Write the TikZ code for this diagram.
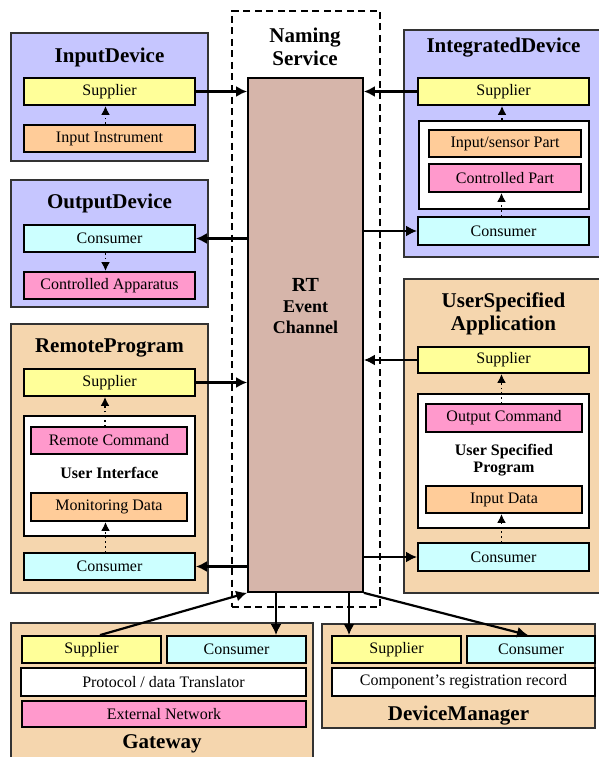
\documentclass[tikz,border=0pt]{standalone}
\usepackage{fontspec}
\setmainfont{Liberation Serif}
\usetikzlibrary{arrows.meta}

\definecolor{devblue}{RGB}{198,198,255}
\definecolor{apptan}{RGB}{245,214,174}
\definecolor{supyellow}{RGB}{255,255,153}
\definecolor{partorange}{RGB}{255,204,153}
\definecolor{partpink}{RGB}{255,153,204}
\definecolor{concyan}{RGB}{204,255,255}
\definecolor{chanbrown}{RGB}{214,181,170}

\tikzset{
  outerbox/.style={draw=black!80, line width=1.7pt, inner sep=0pt},
  devbox/.style={outerbox, fill=devblue},
  appbox/.style={outerbox, fill=apptan},
  partbox/.style={draw=black, line width=1.8pt, inner sep=0pt,
    font=\fontsize{16}{17}\selectfont, minimum height=27pt},
  sup/.style={partbox, fill=supyellow},
  con/.style={partbox, fill=concyan},
  inpart/.style={partbox, fill=partorange},
  outpart/.style={partbox, fill=partpink},
  holder/.style={partbox, fill=white},
  title/.style={font=\fontsize{21}{23}\selectfont\bfseries, align=center, inner sep=0pt},
  sublabel/.style={font=\fontsize{16}{17}\selectfont\bfseries, align=center, inner sep=0pt},
  flow/.style={line width=2.2pt, -{Latex[length=11pt,width=11pt]}},
  local/.style={line width=1.8pt, dash pattern=on 1.6pt off 3pt, -{Latex[length=9pt,width=9pt]}},
}

\begin{document}
\begin{tikzpicture}[x=1pt, y=-1pt]
\useasboundingbox (0,0) rectangle (598,757);

% Naming service frame and event channel
\node[draw, dash pattern=on 7pt off 4.5pt, line width=1.6pt, minimum width=148pt, minimum height=596pt] (ns) at (306,309) {};
\node[title] (nslabel) at (305,46.5) {Naming\\Service};
\node[draw=black, line width=1.7pt, fill=chanbrown, minimum width=115pt, minimum height=514pt] (ch) at (305.5,335) {};
\node[font=\fontsize{20}{22}\selectfont\bfseries, inner sep=0pt] (rt) at (305.5,285) {RT};
\node[font=\fontsize{18}{21}\selectfont\bfseries, align=center, inner sep=0pt] (evch) at (305.5,317.5) {Event\\Channel};

% InputDevice
\node[devbox, minimum width=197pt, minimum height=128pt] (idbox) at (109.5,97) {};
\node[title] (idt) at (109.5,57) {InputDevice};
\node[sup, minimum width=171pt] (idSup) at (109.5,91.5) {Supplier};
\node[inpart, minimum width=171pt] (idInst) at (109.5,138.5) {Input Instrument};

% OutputDevice
\node[devbox, minimum width=197pt, minimum height=127pt] (odbox) at (109.5,243.5) {};
\node[title] (odt) at (109.5,203) {OutputDevice};
\node[con, minimum width=171pt] (odCon) at (109.5,238.5) {Consumer};
\node[outpart, minimum width=171pt] (odApp) at (109.5,285.5) {Controlled Apparatus};

% RemoteProgram
\node[appbox, minimum width=197pt, minimum height=269pt] (rpbox) at (109.5,458.5) {};
\node[title] (rpt) at (109.5,348) {RemoteProgram};
\node[sup, minimum width=171pt] (rpSup) at (109.5,382.5) {Supplier};
\node[holder, minimum width=171pt, minimum height=120pt] (rpUI) at (109.5,476) {};
\node[outpart, minimum width=156pt] (rpCmd) at (109,440.5) {Remote Command};
\node[sublabel] (rpUIl) at (109.5,473) {User Interface};
\node[inpart, minimum width=156pt, minimum height=28pt] (rpMon) at (109,507) {Monitoring Data};
\node[con, minimum width=171pt] (rpCon) at (109.5,566.5) {Consumer};

% IntegratedDevice
\node[devbox, minimum width=196pt, minimum height=227pt] (itbox) at (502,143.5) {};
\node[title] (itt) at (503.5,48) {IntegratedDevice};
\node[sup, minimum width=171pt] (itSup) at (503.5,91.5) {Supplier};
\node[holder, minimum width=170pt, minimum height=88pt] (itWhite) at (504,165) {};
\node[inpart, minimum width=152pt] (itIn) at (505,143.5) {Input/sensor Part};
\node[outpart, minimum width=152pt, minimum height=28pt] (itCtl) at (505,178) {Controlled Part};
\node[con, minimum width=171pt, minimum height=28pt] (itCon) at (503.5,231) {Consumer};

% UserSpecified Application
\node[appbox, minimum width=196pt, minimum height=314pt] (usbox) at (502,436) {};
\node[title] (ust) at (503.5,313.5) {UserSpecified\\Application};
\node[sup, minimum width=171pt, minimum height=26pt] (usSup) at (503.5,360) {Supplier};
\node[holder, minimum width=171pt, minimum height=134pt] (usWhite) at (503.5,461) {};
\node[outpart, minimum width=156pt, minimum height=28pt] (usOut) at (504,418) {Output Command};
\node[sublabel] (usProg) at (504,460.5) {User Specified\\Program};
\node[inpart, minimum width=156pt] (usIn) at (504,499.5) {Input Data};
\node[con, minimum width=171pt, minimum height=28pt] (usCon) at (503.5,557) {Consumer};

% Gateway
\node[appbox, minimum width=302pt, minimum height=147pt] (gwbox) at (162,696.5) {};
\node[sup, minimum width=139pt] (gwSup) at (91.5,649.5) {Supplier};
\node[con, minimum width=139pt] (gwCon) at (236.5,649.5) {Consumer};
\node[holder, minimum width=285pt, minimum height=28pt] (gwProt) at (163.5,682) {Protocol / data Translator};
\node[outpart, minimum width=284pt, minimum height=26pt] (gwExt) at (164,714) {External Network};
\node[title] (gwt) at (162,744) {Gateway};

% DeviceManager
\node[appbox, minimum width=273pt, minimum height=104pt] (dmbox) at (458.5,676) {};
\node[sup, minimum width=129pt] (dmSup) at (396.5,649.5) {Supplier};
\node[con, minimum width=128pt] (dmCon) at (531,649.5) {Consumer};
\node[holder, minimum width=263pt, minimum height=28pt] (dmRec) at (463.5,682) {Component’s registration record};
\node[title] (dmt) at (458.5,716) {DeviceManager};

% Event flow between components and the channel
\draw[flow] (idSup.east) -- (idSup.east -| ch.west);
\draw[flow] (odCon.east -| ch.west) -- (odCon.east);
\draw[flow] (rpSup.east) -- (rpSup.east -| ch.west);
\draw[flow] (rpCon.east -| ch.west) -- (rpCon.east);
\draw[flow] (itSup.west) -- (itSup.west -| ch.east);
\draw[flow] (itCon.west -| ch.east) -- (itCon.west);
\draw[flow] (usSup.west) -- (usSup.west -| ch.east);
\draw[flow] (usCon.west -| ch.east) -- (usCon.west);
\draw[flow] ([xshift=8.5pt]gwSup.north) -- (ch.south west);
\coordinate (gwdrop) at ([xshift=-29.5pt]ch.south);
\draw[flow] (gwdrop) -- (gwdrop |- gwCon.north);
\coordinate (dmdrop) at ([xshift=43.5pt]ch.south);
\draw[flow] (dmdrop) -- (dmdrop |- dmSup.north);
\draw[flow] (ch.south east) -- ([xshift=-3pt]dmCon.north);

% Local data paths inside components
\draw[local] ([xshift=-4pt]idInst.north) -- ([xshift=-4pt]idSup.south);
\draw[local] ([xshift=-4pt]odCon.south) -- ([xshift=-4pt]odApp.north);
\draw[local] ([xshift=-4pt]rpCmd.north) -- ([xshift=-4pt]rpCmd.north |- rpSup.south);
\draw[local] ([xshift=-4pt]rpCon.north) -- ([xshift=-4pt]rpCon.north |- rpMon.south);
\draw[local] ([xshift=-2pt]itWhite.north) -- ([xshift=-2pt]itWhite.north |- itSup.south);
\draw[local] ([xshift=-2pt]itCon.north) -- ([xshift=-2pt]itCon.north |- itCtl.south);
\draw[local] ([xshift=-2pt]usSup.south |- usOut.north) -- ([xshift=-2pt]usSup.south);
\draw[local] ([xshift=-2pt]usCon.north) -- ([xshift=-2pt]usCon.north |- usIn.south);
\end{tikzpicture}
\end{document}
